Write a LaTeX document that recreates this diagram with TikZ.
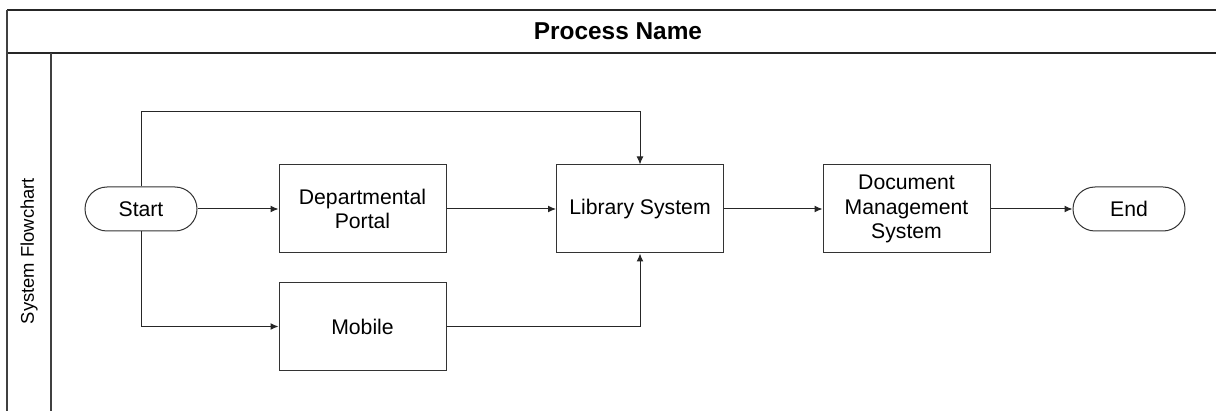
\documentclass[tikz,border=0pt]{standalone}
\usepackage{fontspec}
\setmainfont{Liberation Sans}
\usetikzlibrary{arrows.meta}
\newcommand{\taillet}{\fontsize{10.6pt}{12.3pt}\selectfont}

\begin{document}
\begin{tikzpicture}[x=0.5pt,y=-0.5pt,
    proc/.style={draw=black!80,line width=0.5pt,minimum width=83.5pt,minimum height=44pt,align=center,inner sep=0pt,font=\taillet},
    term/.style={draw=black!80,line width=0.5pt,rounded corners=11pt,minimum width=56pt,minimum height=22pt,inner sep=0pt,font=\taillet},
    link/.style={draw=black!85,line width=0.5pt,-{Latex[length=4pt,width=3.4pt]}}]
        \clip (0,0) rectangle (1216,411);
        % pool frame
        \draw[black!85,line width=1pt] (7,10) -- (1230,10);
        \draw[black!85,line width=1pt] (7,53) -- (1230,53);
        \draw[black!75,line width=0.6pt] (7,10) -- (7,420);
        \draw[black!75,line width=0.6pt] (51,53) -- (51,420);
        \node[font=\fontsize{12.2pt}{14pt}\selectfont\bfseries] (title) at (618,31) {Process Name};
        \node[rotate=90,font=\fontsize{9.2pt}{11pt}\selectfont] (lane) at (29,251) {System Flowchart};
        % steps
        \node[term] (start) at (141,209) {Start};
        \node[proc] (portal) at (362.5,209) {Departmental\\ Portal};
        \node[proc] (mobile) at (362.5,326.5) {Mobile};
        \node[proc] (lib) at (640,209) {Library System};
        \node[proc] (dms) at (906.5,209) {Document\\ Management\\ System};
        \node[term] (stop) at (1129,209) {End};
        \coordinate (topbend) at (640,112);
        % connectors
        \draw[link] (start) -- (portal);
        \draw[link] (portal) -- (lib);
        \draw[link] (lib) -- (dms);
        \draw[link] (dms) -- (stop);
        \draw[link] (start) |- (topbend) -- (lib);
        \draw[link] (start) |- (mobile);
        \draw[link] (mobile) -| (lib);
\end{tikzpicture}
\end{document}
